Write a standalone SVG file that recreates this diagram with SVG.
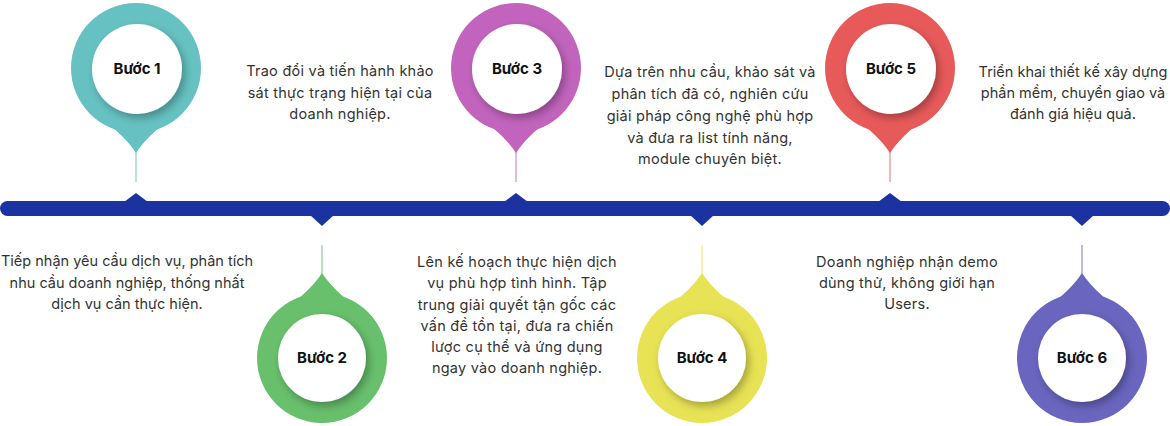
<svg xmlns="http://www.w3.org/2000/svg" width="1170" height="426" viewBox="0 0 1170 426">
<defs>
<filter id="sh" x="-30%" y="-30%" width="160%" height="160%"><feDropShadow dx="3" dy="4" stdDeviation="4" flood-color="#000" flood-opacity="0.3"/></filter>
</defs>
<style>
.t{font-family:Inter,"Noto Sans",sans-serif;font-size:14.5px;letter-spacing:0.25px;fill:#333;text-anchor:middle}
.n{letter-spacing:0}
.b{font-family:Inter,"Noto Sans",sans-serif;font-size:15px;font-weight:700;fill:#111;text-anchor:middle}
.in{fill:#fff;filter:url(#sh)}
</style>
<rect width="1170" height="426" fill="#fff"/>
<g id="connectors">
<rect x="0" y="201" width="1170" height="15" rx="7.5" fill="#1B33A0"/>
<g fill="#1B33A0">
<path d="M124,202 L136,193 L148,202Z"/><path d="M504,202 L516,193 L528,202Z"/><path d="M878,202 L890,193 L902,202Z"/>
<path d="M310,215 L322,226 L334,215Z"/><path d="M690,215 L702,226 L714,215Z"/><path d="M1070,215 L1082,226 L1094,215Z"/>
</g>
<g stroke-width="1.5">
<line x1="136" y1="150" x2="136" y2="182" stroke="#9ed8d8"/>
<line x1="516" y1="150" x2="516" y2="182" stroke="#d9a0d5"/>
<line x1="890" y1="150" x2="890" y2="182" stroke="#f0a0a0"/>
<line x1="322" y1="245" x2="322" y2="276" stroke="#a0d8a2"/>
<line x1="702" y1="245" x2="702" y2="276" stroke="#f0ed9a"/>
<line x1="1082" y1="245" x2="1082" y2="276" stroke="#a6a3da"/>
</g>
</g>
<g id="step1"><circle cx="136" cy="68" r="65" fill="#66C2C2"/><path d="M86,109 Q121,130 136,153 Q151,130 186,109Z" fill="#66C2C2"/><circle class="in" cx="137" cy="69" r="45"/><text class="b" x="137" y="74">Bước 1</text></g>
<g id="step3"><circle cx="516" cy="68" r="65" fill="#C264BD"/><path d="M466,109 Q501,130 516,153 Q531,130 566,109Z" fill="#C264BD"/><circle class="in" cx="517" cy="69" r="45"/><text class="b" x="517" y="74">Bước 3</text></g>
<g id="step5"><circle cx="890" cy="68" r="65" fill="#E85A5A"/><path d="M840,109 Q875,130 890,153 Q905,130 940,109Z" fill="#E85A5A"/><circle class="in" cx="891" cy="69" r="45"/><text class="b" x="891" y="74">Bước 5</text></g>
<g id="step2"><circle cx="322" cy="358" r="65" fill="#68C06C"/><path d="M272,317 Q307,296 322,273 Q337,296 372,317Z" fill="#68C06C"/><circle class="in" cx="322" cy="358" r="44"/><text class="b" x="322" y="363">Bước 2</text></g>
<g id="step4"><circle cx="702" cy="358" r="65" fill="#E8E354"/><path d="M652,317 Q687,296 702,273 Q717,296 752,317Z" fill="#E8E354"/><circle class="in" cx="702" cy="358" r="44"/><text class="b" x="702" y="363">Bước 4</text></g>
<g id="step6"><circle cx="1082" cy="358" r="65" fill="#6A66C0"/><path d="M1032,317 Q1067,296 1082,273 Q1097,296 1132,317Z" fill="#6A66C0"/><circle class="in" cx="1082" cy="358" r="44"/><text class="b" x="1082" y="363">Bước 6</text></g>
<g id="texts">
<text class="t" x="340" y="76">Trao đổi và tiến hành khảo</text>
<text class="t" x="340" y="98">sát thực trạng hiện tại của</text>
<text class="t" x="340" y="119">doanh nghiệp.</text>
<text class="t n" x="127" y="266">Tiếp nhận yêu cầu dịch vụ, phân tích</text>
<text class="t n" x="127" y="288">nhu cầu doanh nghiệp, thống nhất</text>
<text class="t n" x="127" y="309">dịch vụ cần thực hiện.</text>
<text class="t" x="710" y="77">Dựa trên nhu cầu, khảo sát và</text>
<text class="t" x="710" y="99">phân tích đã có, nghiên cứu</text>
<text class="t" x="710" y="121">giải pháp công nghệ phù hợp</text>
<text class="t" x="710" y="143">và đưa ra list tính năng,</text>
<text class="t" x="710" y="164">module chuyên biệt.</text>
<text class="t" x="517" y="267">Lên kế hoạch thực hiện dịch</text>
<text class="t" x="517" y="288">vụ phù hợp tình hình. Tập</text>
<text class="t" x="517" y="310">trung giải quyết tận gốc các</text>
<text class="t" x="517" y="331">vấn đề tồn tại, đưa ra chiến</text>
<text class="t" x="517" y="352">lược cụ thể và ứng dụng</text>
<text class="t" x="517" y="373">ngay vào doanh nghiệp.</text>
<text class="t n" x="1073" y="77">Triển khai thiết kế xây dựng</text>
<text class="t n" x="1073" y="98">phần mềm, chuyển giao và</text>
<text class="t n" x="1073" y="119">đánh giá hiệu quả.</text>
<text class="t" x="907" y="267">Doanh nghiệp nhận demo</text>
<text class="t" x="907" y="288">dùng thử, không giới hạn</text>
<text class="t" x="907" y="309">Users.</text>
</g>
</svg>
